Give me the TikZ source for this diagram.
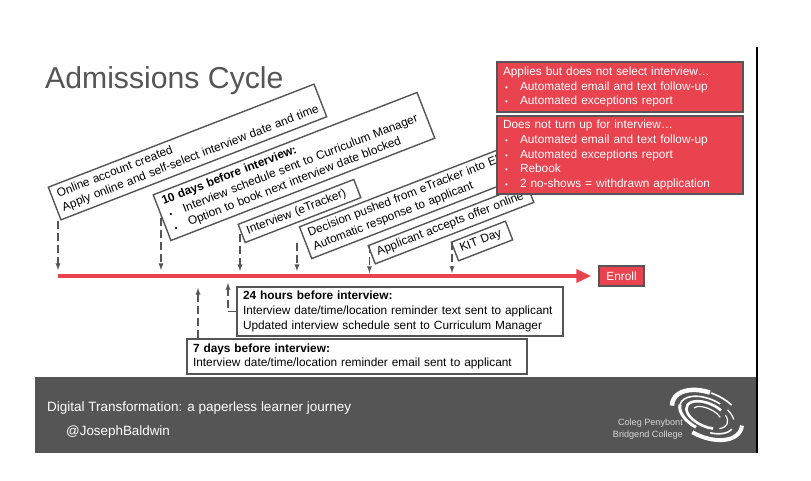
\documentclass[tikz,border=0pt]{standalone}
\usepackage{fontspec}
\setmainfont{Liberation Sans}
\usetikzlibrary{arrows,arrows.meta,positioning}
\definecolor{cycleRed}{HTML}{E8434F}
\definecolor{cycleGrey}{HTML}{555555}
\newcommand{\bul}{\makebox[17pt][l]{\hspace{2pt}\footnotesize\textbullet}}
\tikzset{
  base/.style={font=\fontsize{11.85}{14.6}\selectfont,align=left,inner ysep=0pt,inner xsep=6pt,draw=cycleGrey,line width=1.4pt},
  slantbox/.style={base,fill=white,rotate=21.2},
  flatbox/.style={base,fill=white},
  redbox/.style={base,fill=cycleRed,text=white},
  dashflow/.style={->,>=latex,draw=cycleGrey,line width=1.3pt,dash pattern=on 8pt off 4pt},
}
\begin{document}
\begin{tikzpicture}[x=1pt,y=-1pt]
    \useasboundingbox (0,0) rectangle (811,481);

    % footer and right edge
    \node[fill=cycleGrey,minimum width=722pt,minimum height=76pt,inner sep=0pt] (footer) at (396,415) {};
    \draw[black,line width=1.2pt] (757,47) -- (757,453);

    \node[anchor=base west,inner sep=0pt,text=cycleGrey,font=\fontsize{30.2}{32}\selectfont] (title) at (45,89) {Admissions Cycle};

    % slanted steps above the line
    \node[slantbox,text width=273pt,minimum height=35pt] (account) at (187.5,152)
      {Online account created\\\mbox{Apply online and self-select interview date and time}};
    \node[slantbox,text width=271pt,minimum height=49pt] (tendays) at (294,166.5)
      {\textbf{10 days before interview:}\\\bul Interview schedule sent to Curriculum Manager\\\bul Option to book next interview date blocked};
    \node[slantbox,text width=112pt,minimum height=19.5pt] (interview) at (299.5,211) {Interview (eTracker)};
    \node[slantbox,text width=213pt,minimum height=34pt] (decision) at (410.5,202)
      {\mbox{Decision pushed from eTracker into EBS}\\Automatic response to applicant};
    \node[slantbox,text width=158pt,minimum height=19.5pt] (accepts) at (451,224) {Applicant accepts offer online};
    \node[slantbox,text width=46pt,minimum height=20pt] (kitday) at (482,241) {KIT Day};

    % red boxes on top
    \node[redbox,text width=234pt,minimum height=50pt] (noselect) at (620,87)
      {Applies but does not select interview\dots\\\bul Automated email and text follow-up\\\bul Automated exceptions report};
    \node[redbox,text width=234pt,minimum height=78pt] (noshow) at (620,155)
      {Does not turn up for interview\dots\\\bul Automated email and text follow-up\\\bul Automated exceptions report\\\bul Rebook\\\bul 2 no-shows = withdrawn application};
    \node[redbox,minimum width=45pt,minimum height=20pt,align=center] (enroll) at (621.5,276) {Enroll};

    % reminder boxes under the line
    \node[flatbox,text width=314pt,minimum height=49pt] (hours) at (400,311.5)
      {\textbf{24 hours before interview:}\\Interview date/time/location reminder text sent to applicant\\Updated interview schedule sent to Curriculum Manager};
    \node[flatbox,text width=328pt,minimum height=35pt] (days) at (357,356.5)
      {\textbf{7 days before interview:}\\Interview date/time/location reminder email sent to applicant};

    % the line
    \coordinate (start) at (58,276);
    \draw[cycleRed,line width=4pt,-{Triangle[length=15pt,width=13pt]},shorten >=7pt] (start) -- (enroll.west);

    \coordinate (t1) at (58,270);
    \coordinate (t2) at (161,270);
    \coordinate (t3) at (240,271);
    \coordinate (t4) at (297,271);
    \coordinate (t5) at (369.5,273);
    \coordinate (t6) at (452,273);
    \coordinate (u1) at (198,288);
    \coordinate (u2) at (228,283);

    \draw[dashflow] (t1 |- account.south west) -- (t1);
    \draw[dashflow] (t2 |- tendays.west) -- (t2);
    \draw[dashflow] (t3 |- interview.west) -- (t3);
    \draw[dashflow] (t4 |- decision.west) -- (t4);
    \draw[dashflow] (t5 |- accepts.north west) -- (t5);
    \draw[dashflow] (t6 |- kitday.north west) -- (t6);
    \draw[dashflow] (u1 |- days.north) -- (u1);
    \draw[dashflow] (hours.west) -| (u2);

    % footer text
    \node[anchor=west,inner sep=0pt,text=white,font=\fontsize{13.5}{15}\selectfont] (strap) at (47,408)
      {Digital Transformation: a paperless learner journey};
    \node[anchor=west,inner sep=0pt,text=white,font=\fontsize{13.4}{15}\selectfont] (handle) at (66,432) {@JosephBaldwin};
    \node[anchor=east,inner sep=0pt,align=right,text=white!85!black,font=\fontsize{9.1}{11.6}\selectfont] (college) at (683,429)
      {Coleg Penybont\\Bridgend College};

    % logo
    \begin{scope}[shift={(707,415)},rotate=-24]
      \foreach \rx/\ry/\from/\to/\w in {
        37/22/100/195/4.5, 37/22/60/98/1.6, 37/22/12/-100/4,
        29/16/75/185/1.6, 29/16/185/260/3, 29/16/-10/-70/1.6, 29/16/25/55/1.2,
        22/11.5/60/300/2.6, 22/11.5/-40/40/1.2, 15/6.5/30/170/1.2}
      {
        \draw[white,line width=\w pt] (\from:\rx pt and \ry pt) arc[start angle=\from,end angle=\to,x radius=\rx pt,y radius=\ry pt];
      };
    \end{scope}
\end{tikzpicture}
\end{document}
